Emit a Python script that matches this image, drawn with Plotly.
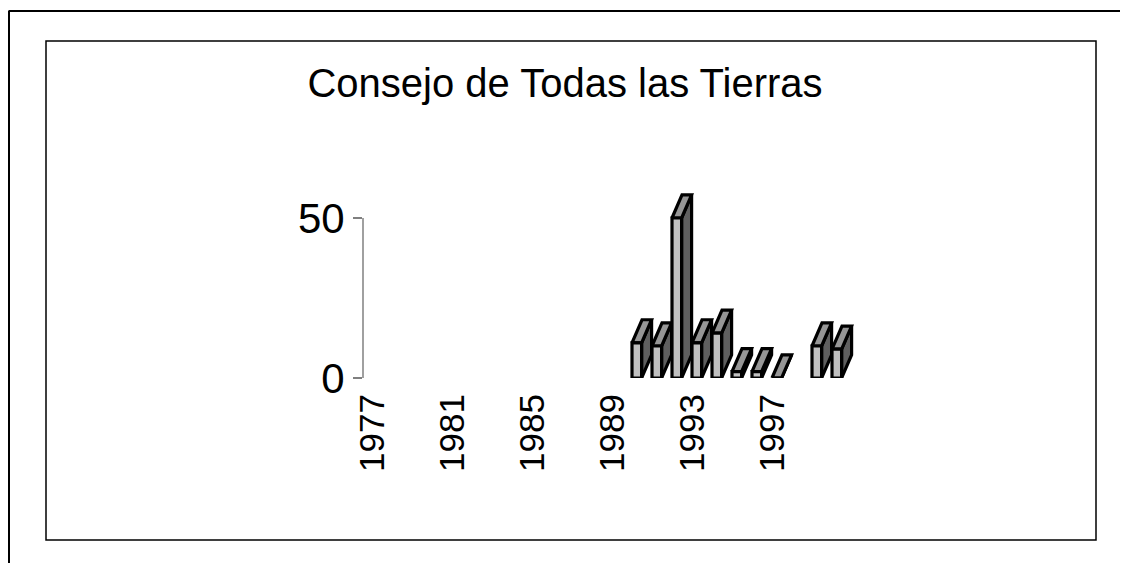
import plotly.graph_objects as go

# data (1977-1989 and 1998 empty)
years = list(range(1977, 2001))
values = [None] * 13 + [11, 10, 50, 11, 14, 2, 2, 0, None, 10, 9]
tick_years = [1977, 1981, 1985, 1989, 1993, 1997]
title = "Consejo de Todas las Tierras"

W, H = 1128, 563
OFF = 8  # page body margin, target pixels are shifted by this
L = 363 - OFF
T = 186 - OFF
B = H - (378 - OFF)
R = W - (862 - OFF)
x_range = [1976.5, 2001.45]
y_range = [0, 60]

# 3d look: front face width, depth offsets (in data units)
front_w = 0.48
depth_x = 0.5
depth_y = 7.2


def px(x):
    return (x - OFF - L) / (W - L - R)


def py(y):
    return (H - B - (y - OFF)) / (H - T - B)


front_x, front_y = [], []
top_x, top_y = [], []
side_x, side_y = [], []
for yr, v in zip(years, values):
    if v is None:
        continue
    x0 = yr - 0.05
    x1 = x0 + front_w
    front_x += [x0, x1, x1, x0, x0, None]
    front_y += [0, 0, v, v, 0, None]
    top_x += [x0, x1, x1 + depth_x, x0 + depth_x, x0, None]
    top_y += [v, v, v + depth_y, v + depth_y, v, None]
    side_x += [x1, x1 + depth_x, x1 + depth_x, x1, x1, None]
    side_y += [0, depth_y, v + depth_y, v, 0, None]

fig = go.Figure()
for xs, ys, col in [(side_x, side_y, "#5f5f5f"), (top_x, top_y, "#969696"), (front_x, front_y, "#c0c0c0")]:
    fig.add_trace(go.Scatter(x=xs, y=ys, mode="lines", fill="toself", fillcolor=col,
                             line=dict(color="black", width=3.2), hoverinfo="skip"))

shapes = [
    # y axis line
    dict(type="line", xref="paper", yref="y", x0=0, x1=0, y0=0, y1=50,
         line=dict(color="#808080", width=1.5)),
    # inner box
    dict(type="rect", xref="paper", yref="paper", x0=px(46), x1=px(1096), y0=py(540), y1=py(41),
         line=dict(color="black", width=1.5)),
    # outer frame (top and left)
    dict(type="line", xref="paper", yref="paper", x0=px(8.5), x1=px(1136), y0=py(11), y1=py(11),
         line=dict(color="black", width=2)),
    dict(type="line", xref="paper", yref="paper", x0=px(9), x1=px(9), y0=py(11), y1=py(575),
         line=dict(color="black", width=2)),
]

fig.update_layout(
    width=W, height=H,
    margin=dict(l=L, r=R, t=T, b=B),
    paper_bgcolor="white", plot_bgcolor="white",
    showlegend=False,
    font=dict(family="Liberation Sans, Arial", color="black"),
    title=dict(text=title, x=(565 - OFF) / W, xref="container", xanchor="center",
               y=1 - (83 - OFF) / H, yref="container", yanchor="middle", font=dict(size=40)),
    shapes=shapes,
)
fig.update_xaxes(range=x_range, tickvals=tick_years, ticktext=[str(t) for t in tick_years],
                 tickangle=-90, ticks="outside", ticklen=1, tickcolor="rgba(0,0,0,0)",
                 tickfont=dict(size=35), showgrid=False, zeroline=False, showline=False)
fig.update_yaxes(range=y_range, tickvals=[0, 50], ticks="outside", ticklen=9, tickcolor="#808080",
                 tickwidth=1.5, tickfont=dict(size=42), showgrid=False, zeroline=False, showline=False)

fig.write_html("out.html")
